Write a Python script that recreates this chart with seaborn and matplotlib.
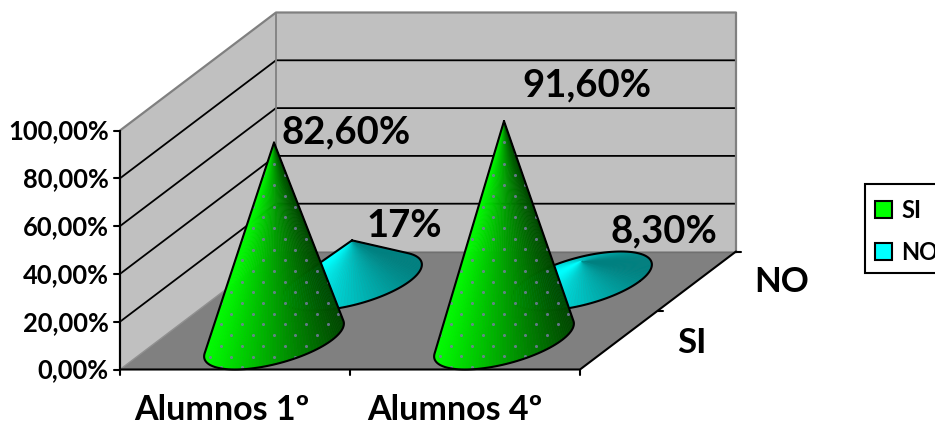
import numpy as np
import pandas as pd
import seaborn as sns
import matplotlib.pyplot as plt
from matplotlib.patches import Patch, Polygon, Rectangle

categories = ["Alumnos 1º", "Alumnos 4º"]
series_names = ["SI", "NO"]
si_values = [82.6, 91.6]
no_values = [17.0, 8.3]
si_labels = ["82,60%", "91,60%"]
no_labels = ["17%", "8,30%"]
value_ticks = [0, 20, 40, 60, 80, 100]
value_tick_labels = ["0,00%", "20,00%", "40,00%", "60,00%", "80,00%", "100,00%"]

sns.set_theme(style="white")
plt.rcParams["font.family"] = ["Lato", "DejaVu Sans"]
plt.rcParams["font.weight"] = "bold"
plt.rcParams["text.color"] = "black"

GREEN = np.array([0, 255, 0]) / 255
CYAN = np.array([0, 255, 255]) / 255

fig, ax = plt.subplots(figsize=(9.35, 4.25), dpi=100)
ax.set_position([0, 0, 1, 1])
ax.set_xlim(0, 935)
ax.set_ylim(425, 0)
ax.axis("off")


# oblique projection of the excel 3d box: category, value, depth -> pixels
def proj(c, v, d):
    return np.array([120 + c * 230 + d * 156, 369.5 - v * 2.39 - d * 118])


def poly(pts, **kw):
    ax.add_patch(Polygon(np.array(pts), closed=True, **kw))


# walls and floor
poly([proj(0, 0, 0), proj(0, 100, 0), proj(0, 100, 1), proj(0, 0, 1)], fc="#c0c0c0", ec="none", zorder=0)
poly([proj(0, 0, 1), proj(0, 100, 1), proj(2, 100, 1), proj(2, 0, 1)], fc="#c0c0c0", ec="none", zorder=0)
poly([proj(0, 0, 0), proj(2, 0, 0), proj(2, 0, 1), proj(0, 0, 1)], fc="#808080", ec="none", zorder=0)

# gridlines on the two walls
rows = []
for v in value_ticks[1:-1]:
    for i, (c, d) in enumerate([(0, 0), (0, 1), (2, 1)]):
        x, y = proj(c, v, d)
        rows.append({"x": x, "y": y, "tick": v, "i": i})
grid = pd.DataFrame(rows)
sns.lineplot(data=grid, x="x", y="y", units="tick", estimator=None, sort=False,
             color="black", lw=1.3, ax=ax, legend=False, zorder=1)
ax.set_xlabel("")
ax.set_ylabel("")

edge = [proj(0, 0, 0), proj(0, 100, 0), proj(0, 100, 1), proj(2, 100, 1), proj(2, 0, 1)]
ax.plot(*np.array(edge).T, color="#808080", lw=1.6, zorder=1)
ax.plot(*np.array([proj(0, 0, 1), proj(0, 100, 1)]).T, color="#808080", lw=1.3, zorder=1)
ax.plot(*np.array([proj(0, 0, 0), proj(0, 0, 1)]).T, color="#909090", lw=1, zorder=1)
ax.plot(*np.array([proj(0, 0, 1), proj(2, 0, 1)]).T, color="#707070", lw=1, zorder=1)

# axes lines and ticks
ax.plot(*np.array([proj(0, 0, 0), proj(0, 100, 0)]).T, color="black", lw=1.5, zorder=2)
ax.plot(*np.array([proj(0, 0, 0), proj(2, 0, 0), proj(2, 0, 1)]).T, color="black", lw=1.5, zorder=2)
for v, lab in zip(value_ticks, value_tick_labels):
    x, y = proj(0, v, 0)
    ax.plot([x - 6, x], [y, y], color="black", lw=1.5, zorder=2)
    ax.text(x - 11, y + 1, lab, ha="right", va="center", fontsize=18.4)
for c in range(3):
    x, y = proj(c, 0, 0)
    ax.plot([x, x], [y, y + 5], color="black", lw=1.5, zorder=2)
for d in [0.5, 1]:
    x, y = proj(2, 0, d)
    ax.plot([x, x + 5], [y, y], color="black", lw=1.5, zorder=2)
for i, (cat, shift) in enumerate(zip(categories, [-13, -10])):
    x, y = proj(i + 0.5, 0, 0)
    ax.text(x + shift, y + 41, cat, ha="center", va="center", fontsize=24.5)
for name, d, dx, dy in zip(series_names, [0.25, 0.75], [73, 85], [3, 1]):
    x, y = proj(2, 0, d)
    ax.text(x + dx, y + dy, name, ha="center", va="center", fontsize=25)


def cone(cat, depth, value, color, dark, z):
    c0 = proj(cat + 0.5, 0, depth)
    apex = proj(cat + 0.5, value, depth)
    t = np.linspace(0, 2 * np.pi, 121)[:-1]
    base = np.array([c0[0] + 58 * np.cos(t) + 39 * np.sin(t), c0[1] - 29.5 * np.sin(t)]).T
    nxt = np.roll(base, -1, axis=0)
    a, b = base - apex, nxt - apex
    cross = a[:, 0] * b[:, 1] - a[:, 1] * b[:, 0]
    orient = np.sum(base[:, 0] * nxt[:, 1] - base[:, 1] * nxt[:, 0])
    vis = cross * orient > 0
    frac = (base[:, 0] - base[:, 0].min()) / (base[:, 0].max() - base[:, 0].min())
    for i in np.where(vis)[0]:
        shade = color * (1 - dark * (frac[i] + frac[(i + 1) % 120]) / 2)
        poly([apex, base[i], nxt[i]], fc=shade, ec=shade, lw=0.4, zorder=z)
    if vis.all():
        outline = np.vstack([base, base[0]])
    else:
        start = np.where(vis & ~np.roll(vis, 1))[0][0]
        order = (start + np.arange(vis.sum() + 1)) % 120
        outline = np.vstack([apex, base[order], apex])
    ax.plot(*outline.T, color="black", lw=1.5, solid_joinstyle="round", zorder=z + 0.2)
    return apex, outline


def dots(apex, outline, z):
    # faint dotted texture of the original render
    xs, ys = np.meshgrid(np.arange(-5, 6), np.arange(1, 24))
    px = apex[0] + 21.4 * xs + 10.7 * (ys % 2)
    py = apex[1] + 10.7 * ys
    df = pd.DataFrame({"px": px.ravel(), "py": py.ravel()})
    n = len(ax.collections)
    sns.scatterplot(data=df, x="px", y="py", s=5, color="#7c7ca8", linewidth=0,
                    alpha=0.8, ax=ax, legend=False, zorder=z)
    clip = Polygon(outline, closed=True, transform=ax.transData)
    for coll in ax.collections[n:]:
        coll.set_clip_path(clip)
    ax.set_xlabel("")
    ax.set_ylabel("")


for i in range(2):
    cone(i, 0.75, no_values[i], CYAN, 0.5, 3 + 2 * i)
    apex, outline = cone(i, 0.25, si_values[i], GREEN, 0.72, 4 + 2 * i)
    dots(apex, outline, 4.1 + 2 * i)

# data labels
si_label_xy = [(346, 132), (587, 85)]
no_label_xy = [(404, 226), (664, 231)]
for lab, xy in zip(si_labels + no_labels, si_label_xy + no_label_xy):
    ax.text(xy[0], xy[1], lab, ha="center", va="center", fontsize=27.5, zorder=10)

# legend box runs off the right edge of the picture
ax.add_patch(Rectangle((865, 184), 100, 89, fc="white", ec="black", lw=1.5, zorder=9))
handles = [Patch(fc=GREEN, ec="black", lw=1.5), Patch(fc=CYAN, ec="black", lw=1.5)]
leg = ax.legend(handles, series_names, loc="upper left", bbox_to_anchor=(875, 198.5),
                bbox_transform=ax.transData, frameon=False,
                prop={"weight": "bold", "size": 17}, handlelength=0.72, handleheight=0.72,
                handletextpad=0.38, labelspacing=0.82, borderpad=0, borderaxespad=0)
leg.set_zorder(10)

ax.set_xlim(0, 935)
ax.set_ylim(425, 0)
fig.savefig("out.png", dpi=100)
